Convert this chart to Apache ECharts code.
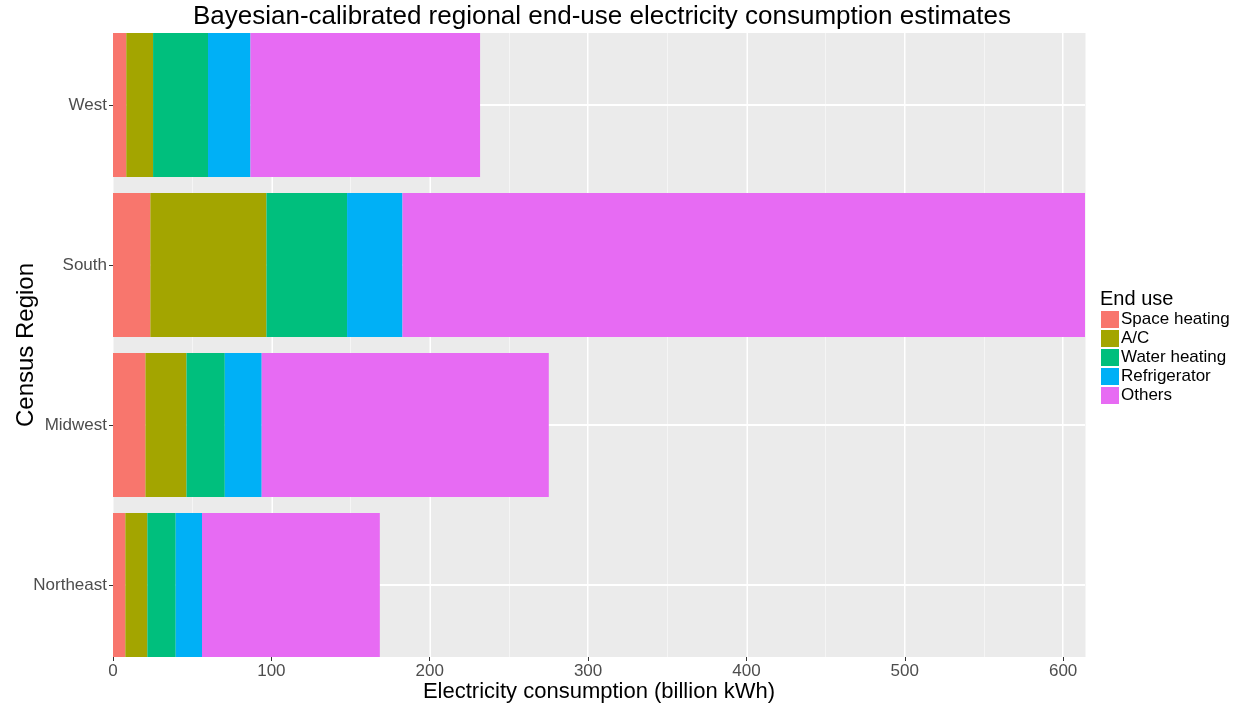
<!DOCTYPE html>
<html>
<head>
<meta charset="utf-8">
<script src="https://cdn.jsdelivr.net/npm/echarts@6/dist/echarts.min.js"></script>
<style>
html,body{margin:0;padding:0;background:#fff;}
#chart{width:1244px;height:704px;}
</style>
</head>
<body>
<div id="chart"></div>
<script>
// Regions listed bottom-to-top as drawn
const regions = ['Northeast', 'Midwest', 'South', 'West'];
const endUses = ['Space heating', 'A/C', 'Water heating', 'Refrigerator', 'Others'];
const spaceHeating = [7.8, 20.5, 23.6, 8.4];
const ac = [13.9, 25.9, 73.3, 16.9];
const waterHeating = [17.9, 24.2, 50.9, 34.7];
const refrigerator = [16.6, 23.3, 35.0, 26.8];
const others = [112.3, 181.3, 431.0, 145.0];
const xTicks = [0, 100, 200, 300, 400, 500, 600];
const colors = ['#F8766D', '#A3A500', '#00BF7D', '#00B0F6', '#E76BF3'];

const seriesValues = [spaceHeating, ac, waterHeating, refrigerator, others];
const totals = regions.map((_, i) => seriesValues.reduce((s, arr) => s + arr[i], 0));
const xMax = Math.max(...totals);

const FONT = '"Liberation Sans", Arial, sans-serif';

const chart = echarts.init(document.getElementById('chart'), null, {renderer: 'canvas'});

const series = seriesValues.map((vals, k) => {
  const s = {
    name: endUses[k],
    type: 'bar',
    stack: 'total',
    xAxisIndex: 1,
    yAxisIndex: 1,
    data: vals,
    barCategoryGap: '10%',
    itemStyle: {color: colors[k]},
    z: 2,
    silent: true
  };
  if (k === 0) {
    s.markLine = {
      silent: true,
      z: 1,
      symbol: ['none', 'none'],
      label: {show: false},
      animation: false,
      lineStyle: {color: '#FFFFFF', width: 2, type: 'solid'},
      data: regions.map(r => ({yAxis: r}))
    };
  }
  return s;
});

const option = {
  animation: false,
  backgroundColor: '#FFFFFF',
  textStyle: {fontFamily: FONT},
  title: [
    {
      text: 'Bayesian-calibrated regional end-use electricity consumption estimates',
      left: 193, top: 4, padding: 0,
      textStyle: {fontFamily: FONT, fontSize: 26, fontWeight: 'normal', color: '#000000'}
    },
    {
      text: 'End use',
      left: 1100, top: 289, padding: 0,
      textStyle: {fontFamily: FONT, fontSize: 20, fontWeight: 'normal', color: '#000000'}
    }
  ],
  legend: {
    orient: 'vertical',
    left: 1101, top: 311,
    padding: 0,
    itemWidth: 18, itemHeight: 17, itemGap: 2,
    icon: 'rect',
    selectedMode: false,
    data: endUses,
    textStyle: {fontFamily: FONT, fontSize: 17, color: '#000000', padding: [0, 0, 0, -3]}
  },
  grid: [
    {left: 113, right: 159, top: 33, bottom: 47, show: true, backgroundColor: '#EBEBEB', borderWidth: 0, containLabel: false, outerBoundsMode: 'none'},
    {left: 113, right: 159, top: 25, bottom: 39, show: false, containLabel: false, outerBoundsMode: 'none'}
  ],
  xAxis: [
    {
      type: 'value', gridIndex: 0, min: 0, max: xMax, interval: 100,
      axisLine: {show: false},
      axisTick: {show: true, length: 4, lineStyle: {color: '#333333', width: 1}, customValues: xTicks},
      axisLabel: {show: true, customValues: xTicks, margin: 6, fontFamily: FONT, fontSize: 17, color: '#4D4D4D'},
      splitLine: {show: true, lineStyle: {color: '#FFFFFF', width: 2}},
      name: 'Electricity consumption (billion kWh)',
      nameLocation: 'middle', nameGap: 24, nameMoveOverlap: false,
      nameTextStyle: {fontFamily: FONT, fontSize: 22, color: '#000000', verticalAlign: 'top'}
    },
    {
      type: 'value', gridIndex: 1, min: 0, max: xMax,
      show: false, splitLine: {show: false}
    },
    {
      type: 'value', gridIndex: 0, min: 0, max: xMax, interval: 50,
      axisLine: {show: false}, axisTick: {show: false}, axisLabel: {show: false},
      splitLine: {show: true, lineStyle: {color: '#F5F5F5', width: 1}}
    }
  ],
  yAxis: [
    {
      type: 'value', gridIndex: 0, show: false, splitLine: {show: false}
    },
    {
      type: 'category', gridIndex: 1, data: regions,
      axisLine: {show: false},
      axisTick: {show: true, length: 4, alignWithLabel: true, lineStyle: {color: '#333333', width: 1}},
      axisLabel: {margin: 6, fontFamily: FONT, fontSize: 17, color: '#4D4D4D'},
      splitLine: {show: false},
      name: 'Census Region',
      nameLocation: 'middle', nameGap: 75, nameRotate: 90, nameMoveOverlap: false,
      nameTextStyle: {fontFamily: FONT, fontSize: 24, color: '#000000'}
    }
  ],
  series: series
};

chart.setOption(option);
</script>
</body>
</html>
